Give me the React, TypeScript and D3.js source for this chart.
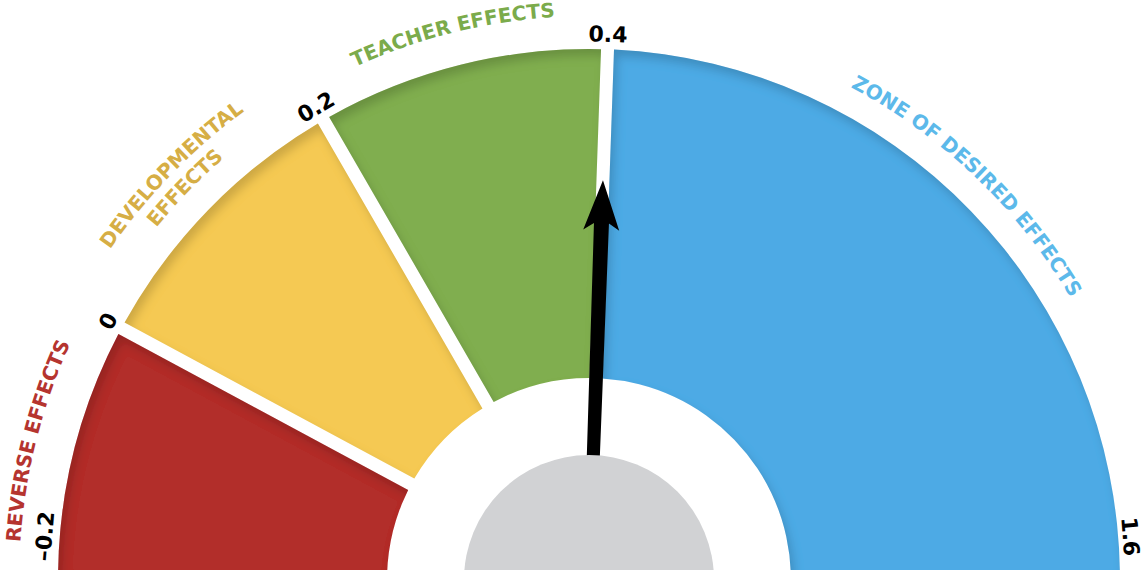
import * as d3 from 'd3';

// zones of the barometer
const zoneStarts = [-0.2, 0, 0.2, 0.4];
const zoneEnds = [0, 0.2, 0.4, 1.6];
const zoneLabels = [['REVERSE EFFECTS'], ['DEVELOPMENTAL', 'EFFECTS'], ['TEACHER EFFECTS'], ['ZONE OF DESIRED EFFECTS']];
const zoneColors = ['#b22d2c', '#f5c952', '#80ae4f', '#4eaae5'];
const zoneTextColors = ['#b5342f', '#d6ae45', '#7bab4b', '#5cb9ea'];

// scale ticks
const tickValues = [-0.2, 0, 0.2, 0.4, 1.6];
const tickLabels = ['–0.2', '0', '0.2', '0.4', '1.6'];

const needleValue = 0.4;

export default function App() {
  const width = 1144;
  const height = 570;
  const cx = 589;
  const cy = 580;
  const outerR = 531;
  const innerR = 202;
  const hubR = 125;
  const gap = 13;

  const toRad = (d: number) => (d * Math.PI) / 180;
  // degrees, 0 = straight up, clockwise (d3.arc convention)
  const gaugeAngles = [-90, -61.7, -30, 2, 90];
  const angle = d3.scaleLinear<number>().domain(tickValues).range(gaugeAngles.map(toRad));

  const zones = zoneStarts.map((s, i) => ({
    start: s,
    end: zoneEnds[i],
    lines: zoneLabels[i],
    color: zoneColors[i],
    textColor: zoneTextColors[i],
  }));

  const arc = d3
    .arc<{ start: number; end: number }>()
    .innerRadius(innerR)
    .outerRadius(outerR)
    .startAngle((d) => angle(d.start))
    .endAngle((d) => angle(d.end))
    .padRadius(400)
    .padAngle(gap / 400);

  const polar = (a: number, r: number) => [r * Math.sin(a), -r * Math.cos(a)];

  // clockwise arc path used by textPath, centred on angle a
  const labelPath = (a: number, r: number) => {
    const [x0, y0] = polar(a - 1.2, r);
    const [x1, y1] = polar(a + 1.2, r);
    return `M${x0},${y0} A${r},${r} 0 0 1 ${x1},${y1}`;
  };

  // baseline offsets outside the outer edge; reverse effects sits further out to clear the −0.2 tick
  const labelBase = [outerR + 39, outerR + 27, outerR + 33, outerR + 27];
  const labelNudge = [0, 0, 0, toRad(-2.2)];
  const lineStep = 24;

  const [dMin, dMax] = d3.extent(tickValues) as [number, number];
  const endInset = toRad(4.6);
  const tickR = outerR + 15;

  const needleA = (angle(needleValue) * 180) / Math.PI;

  return (
    <svg
      width={width}
      height={height}
      style={{ position: 'absolute', left: 0, top: 0, background: '#fff' }}
    >
      <defs>
        <filter id="innerShadow" x="-5%" y="-5%" width="110%" height="110%">
          <feOffset in="SourceAlpha" dx="4" dy="7" result="off" />
          <feGaussianBlur in="off" stdDeviation="5" result="blur" />
          <feComposite in="SourceAlpha" in2="blur" operator="out" result="edge" />
          <feFlood floodColor="#000" floodOpacity="0.33" />
          <feComposite in2="edge" operator="in" result="shadow" />
          <feMerge>
            <feMergeNode in="SourceGraphic" />
            <feMergeNode in="shadow" />
          </feMerge>
        </filter>
      </defs>
      <g transform={`translate(${cx},${cy})`}>
        {zones.map((z, i) => (
          <path key={`seg-${i}`} d={arc(z) || ''} fill={z.color} filter="url(#innerShadow)" />
        ))}

        {zones.map((z, i) => {
          const mid = (angle(z.start) + angle(z.end)) / 2 + labelNudge[i];
          const n = z.lines.length;
          return z.lines.map((line, j) => {
            const r = labelBase[i] + (n - 1 - j) * lineStep;
            const id = `lbl-${i}-${j}`;
            return (
              <g key={id}>
                <path id={id} d={labelPath(mid, r)} fill="none" />
                <text
                  fill={z.textColor}
                  fontFamily="'DejaVu Sans', sans-serif"
                  fontWeight="bold"
                  fontSize={20}
                >
                  <textPath href={`#${id}`} startOffset="50%" textAnchor="middle">
                    {line}
                  </textPath>
                </text>
              </g>
            );
          });
        })}

        {tickValues.map((v, i) => {
          let a = angle(v);
          if (v === dMin) a += endInset;
          if (v === dMax) a -= endInset;
          const [x, y] = polar(a, v === dMax ? tickR - 3 : tickR);
          return (
            <text
              key={`tick-${i}`}
              transform={`translate(${x},${y}) rotate(${(a * 180) / Math.PI})`}
              textAnchor="middle"
              dominantBaseline="central"
              fontFamily="'DejaVu Sans', sans-serif"
              fontWeight="bold"
              fontSize={22}
              fill="#000"
            >
              {tickLabels[i]}
            </text>
          );
        })}

        <g transform={`rotate(${needleA})`}>
          <path
            d="M-6,0 L-7.5,-357 L-18,-350 L0,-400 L18,-350 L7.5,-357 L6,0 Z"
            fill="#000"
          />
        </g>
        <circle r={hubR} fill="#d1d2d4" />
      </g>
    </svg>
  );
}
